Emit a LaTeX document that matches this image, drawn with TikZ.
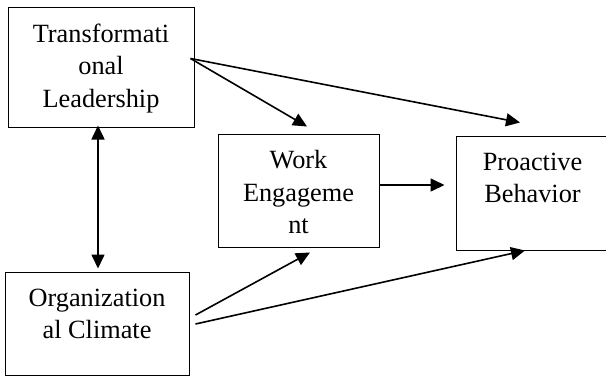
\documentclass[tikz,border=0pt]{standalone}
\usepackage{fontspec}
\setmainfont{Liberation Serif}
\usetikzlibrary{positioning,calc,arrows.meta}

\tikzset{
  >={Triangle[length=14pt,width=13pt]},
  varbox/.style={draw, line width=1pt, rectangle, inner sep=0pt},
  vartext/.style={inner sep=0pt, align=center, font=\fontsize{26.3}{32.5}\selectfont},
  link/.style={line width=1.6pt, ->}
}

\begin{document}
\begin{tikzpicture}[x=1pt,y=-1pt]
\useasboundingbox (0,0) rectangle (606,376);
\clip (0,0) rectangle (606,376);

\node[varbox, minimum width=186pt, minimum height=120pt] (tl) at (101,67) {};
\node[varbox, minimum width=184pt, minimum height=103pt] (oc) at (97,323.5) {};
\node[varbox, minimum width=161pt, minimum height=113pt] (we) at (298.5,190.5) {};
\node[varbox, minimum width=153pt, minimum height=114pt] (pb) at (532.5,193) {};

\node[vartext, below=17pt of tl.north] (tltext) {Transformati\\onal\\Leadership};
\node[vartext, below=17pt of oc.north] (octext) {Organization\\al Climate};
\node[vartext, below=17pt of we.north] (wetext) {Work\\Engageme\\nt};
\node[vartext, below=17pt of pb.north] (pbtext) {Proactive\\Behavior};

\coordinate (tlout) at ($(tl.north east)+(-4,52)$);
\coordinate (ocoutA) at ($(oc.east)+(6,-8.5)$);
\coordinate (ocoutB) at ($(oc.east)+(6,0.5)$);
\coordinate (weinA) at ($(we.north)+(8.5,-7)$);
\coordinate (weinB) at ($(we.south)+(11.5,5)$);
\coordinate (weout) at ($(we.east)+(0,-5.5)$);
\coordinate (pbinA) at ($(pb.north)+(-12.5,-13)$);
\coordinate (pbinB) at ($(pb.west)+(-11,-8)$);
\coordinate (pbinC) at ($(pb.south)+(-7.5,0)$);
\coordinate (tlbot) at ($(tl.south)+(-3,-2)$);
\coordinate (octop) at ($(oc.north)+(1,-3)$);

\draw[link] (tlout) -- (weinA);
\draw[link] (tlout) -- (pbinA);
\draw[link] (weout) -- (pbinB);
\draw[link] (ocoutA) -- (weinB);
\draw[link] (ocoutB) -- (pbinC);
\draw[link, <->] (tlbot) -- (octop);

\end{tikzpicture}
\end{document}
